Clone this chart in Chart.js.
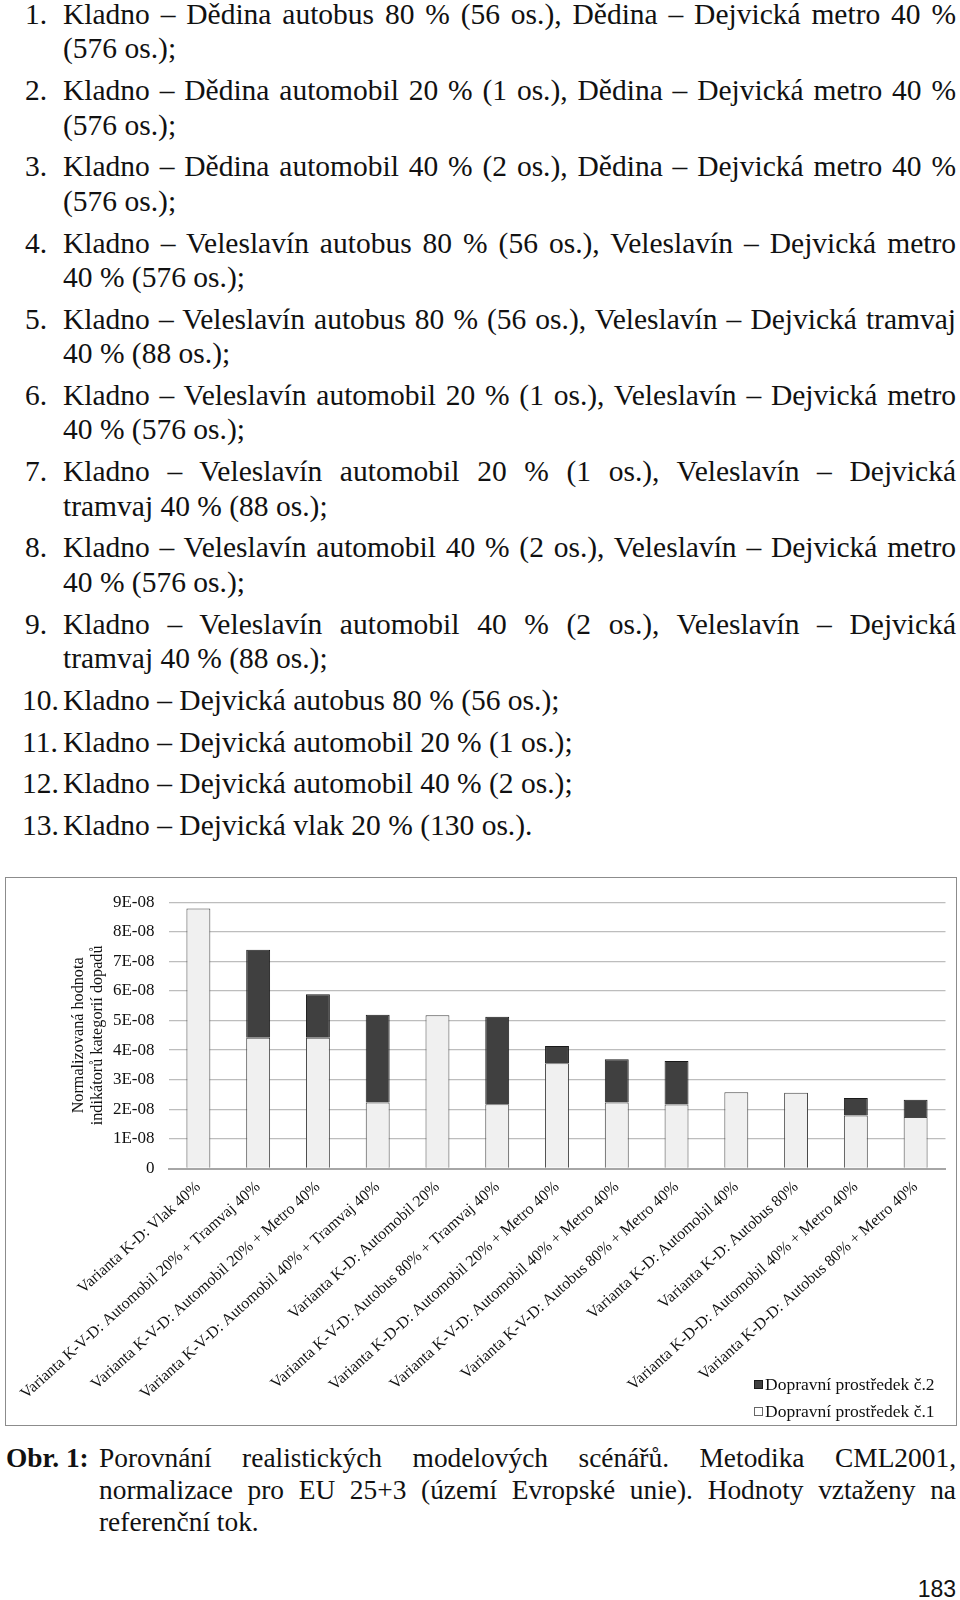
<!DOCTYPE html>
<html lang="cs">
<head>
<meta charset="utf-8">
<title>Porovnání realistických modelových scénářů</title>
<script src="https://cdn.jsdelivr.net/npm/chart.js@4.4.1/dist/chart.umd.min.js"></script>
<style>
    html, body { margin: 0; padding: 0; background: #fff; }
    body {
        width: 960px; height: 1600px; position: relative; overflow: hidden;
        font-family: "Liberation Serif", "Times New Roman", serif; color: #111;
    }
    .list { position: absolute; left: 0; top: -3px; width: 956px; font-size: 29.5px; line-height: 34.4px; }
    .item { position: relative; padding-left: 63px; margin-bottom: 7.4px; white-space: nowrap; }
    .item .num { position: absolute; left: 25px; top: 0; }
    .item.wide .num { left: 22px; }
    /* first line of a two-line item is spread to the full width */
    .j { text-align: justify; text-align-last: justify; }

    .chart-box {
        position: absolute; left: 5px; top: 877px; width: 952px; height: 549px;
        border: 1.5px solid #8c8c8c; box-sizing: border-box;
    }
    .chart-wrap { position: absolute; left: 0; top: 0; width: 949px; height: 546px; }
    .legend { position: absolute; left: 748px; top: 493px; font-size: 17.5px; line-height: 27px; }
    .legend-item { display: flex; align-items: center; height: 27px; white-space: nowrap; }
    .legend-box { width: 9px; height: 9px; margin-right: 2px; box-sizing: border-box; }

    .caption { position: absolute; left: 0; top: 1442px; width: 956px; font-size: 27.4px; line-height: 32px; }
    .caption .lead { position: absolute; left: 6px; top: 0; font-weight: bold; }
    .caption .body { margin-left: 99px; white-space: nowrap; }

    .page-num {
        position: absolute; right: 4px; top: 1575px;
        font-family: "Liberation Sans", Arial, sans-serif; font-size: 23px; line-height: 28px;
    }
</style>
</head>
<body>

<div class="list">
    <div class="item"><span class="num">1.</span><div class="j">Kladno – Dědina autobus 80 % (56 os.), Dědina – Dejvická metro 40 %</div><div>(576 os.);</div></div>
    <div class="item"><span class="num">2.</span><div class="j">Kladno – Dědina automobil 20 % (1 os.), Dědina – Dejvická metro 40 %</div><div>(576 os.);</div></div>
    <div class="item"><span class="num">3.</span><div class="j">Kladno – Dědina automobil 40 % (2 os.), Dědina – Dejvická metro 40 %</div><div>(576 os.);</div></div>
    <div class="item"><span class="num">4.</span><div class="j">Kladno – Veleslavín autobus 80 % (56 os.), Veleslavín – Dejvická metro</div><div>40 % (576 os.);</div></div>
    <div class="item"><span class="num">5.</span><div class="j">Kladno – Veleslavín autobus 80 % (56 os.), Veleslavín – Dejvická tramvaj</div><div>40 % (88 os.);</div></div>
    <div class="item"><span class="num">6.</span><div class="j">Kladno – Veleslavín automobil 20 % (1 os.), Veleslavín – Dejvická metro</div><div>40 % (576 os.);</div></div>
    <div class="item"><span class="num">7.</span><div class="j">Kladno – Veleslavín automobil 20 % (1 os.), Veleslavín – Dejvická</div><div>tramvaj 40 % (88 os.);</div></div>
    <div class="item"><span class="num">8.</span><div class="j">Kladno – Veleslavín automobil 40 % (2 os.), Veleslavín – Dejvická metro</div><div>40 % (576 os.);</div></div>
    <div class="item"><span class="num">9.</span><div class="j">Kladno – Veleslavín automobil 40 % (2 os.), Veleslavín – Dejvická</div><div>tramvaj 40 % (88 os.);</div></div>
    <div class="item wide"><span class="num">10.</span>Kladno – Dejvická autobus 80 % (56 os.);</div>
    <div class="item wide"><span class="num">11.</span>Kladno – Dejvická automobil 20 % (1 os.);</div>
    <div class="item wide"><span class="num">12.</span>Kladno – Dejvická automobil 40 % (2 os.);</div>
    <div class="item wide"><span class="num">13.</span>Kladno – Dejvická vlak 20 % (130 os.).</div>
</div>

<div class="chart-box">
    <div class="chart-wrap"><canvas id="scenarioChart"></canvas></div>
    <div class="legend" id="legend"></div>
</div>

<div class="caption">
    <span class="lead">Obr. 1:</span>
    <div class="body">
        <div class="j">Porovnání realistických modelových scénářů. Metodika CML2001,</div>
        <div class="j">normalizace pro EU 25+3 (území Evropské unie). Hodnoty vztaženy na</div>
        <div>referenční tok.</div>
    </div>
</div>

<div class="page-num">183</div>

<script>
// scenario names under the bars
const categories = [
    "Varianta K-D: Vlak 40%",
    "Varianta K-V-D: Automobil 20% + Tramvaj 40%",
    "Varianta K-V-D: Automobil 20% + Metro 40%",
    "Varianta K-V-D: Automobil 40% + Tramvaj 40%",
    "Varianta K-D: Automobil 20%",
    "Varianta K-V-D: Autobus 80% + Tramvaj 40%",
    "Varianta K-D-D: Automobil 20% + Metro 40%",
    "Varianta K-V-D: Automobil 40% + Metro 40%",
    "Varianta K-V-D: Autobus 80% + Metro 40%",
    "Varianta K-D: Automobil 40%",
    "Varianta K-D: Autobus 80%",
    "Varianta K-D-D: Automobil 40% + Metro 40%",
    "Varianta K-D-D: Autobus 80% + Metro 40%"
];

// normalised impact, lower part of each bar (first transport mode)
const transport1 = [8.79e-8, 4.42e-8, 4.42e-8, 2.23e-8, 5.18e-8, 2.17e-8, 3.56e-8, 2.23e-8, 2.16e-8, 2.58e-8, 2.56e-8, 1.79e-8, 1.74e-8];
// upper part (second transport mode), null where there is none
const transport2 = [null, 2.97e-8, 1.47e-8, 2.97e-8, null, 2.96e-8, 0.58e-8, 1.46e-8, 1.47e-8, null, null, 0.59e-8, 0.58e-8];

const seriesNames = ["Dopravní prostředek č.1", "Dopravní prostředek č.2"];
const yTickLabels = ["0", "1E-08", "2E-08", "3E-08", "4E-08", "5E-08", "6E-08", "7E-08", "8E-08", "9E-08"];
const yAxisTitle = ["Normalizovaná hodnota", "indikátorů kategorií dopadů"];

const serif = "'Liberation Serif', 'Times New Roman', serif";
const fills = ["#f0f0f0", "#404040"];
const strokes = ["#444444", "#1a1a1a"];

document.addEventListener('DOMContentLoaded', function () {
    const ctx = document.getElementById('scenarioChart').getContext('2d');

    const chart = new Chart(ctx, {
        type: 'bar',
        data: {
            labels: categories,
            datasets: [
                {
                    label: seriesNames[0],
                    data: transport1,
                    backgroundColor: fills[0],
                    borderColor: strokes[0],
                    borderWidth: 1,
                    barPercentage: 0.4,
                    categoryPercentage: 1.0
                },
                {
                    label: seriesNames[1],
                    data: transport2,
                    backgroundColor: fills[1],
                    borderColor: strokes[1],
                    borderWidth: 1,
                    barPercentage: 0.4,
                    categoryPercentage: 1.0
                }
            ]
        },
        options: {
            responsive: true,
            maintainAspectRatio: false,
            animation: false,
            layout: { padding: { left: 0, right: 9.5, top: 20, bottom: 0 } },
            plugins: {
                legend: { display: false },
                tooltip: { enabled: false }
            },
            scales: {
                x: {
                    stacked: true,
                    grid: { display: false, drawTicks: false },
                    border: { display: true, color: '#a6a6a6', width: 2 },
                    ticks: {
                        autoSkip: false,
                        minRotation: 42,
                        maxRotation: 42,
                        padding: 9,
                        color: '#111',
                        font: { family: serif, size: 16 }
                    },
                    afterFit: function (scale) { scale.height = 255.5; }
                },
                y: {
                    stacked: true,
                    min: 0,
                    max: 9e-8,
                    ticks: {
                        stepSize: 1e-8,
                        padding: 14,
                        color: '#111',
                        font: { family: serif, size: 17 },
                        callback: function (value, index) { return yTickLabels[index]; }
                    },
                    grid: { color: '#bdbdbd', lineWidth: 1.3, drawTicks: false },
                    border: { display: false },
                    title: {
                        display: true,
                        text: yAxisTitle,
                        color: '#111',
                        font: { family: serif, size: 16.2, lineHeight: 1.2 },
                        padding: { top: 63, bottom: 0 }
                    },
                    afterFit: function (scale) { scale.width = 162.5; }
                }
            }
        }
    });

    // legend in the lower right corner, second mode first like in the original
    let legend = document.getElementById('legend');
    [1, 0].forEach(function (i) {
        let row = document.createElement('div');
        row.classList.add('legend-item');

        let box = document.createElement('span');
        box.classList.add('legend-box');
        box.style.background = i === 1 ? fills[1] : '#ffffff';
        box.style.border = '1px solid ' + (i === 1 ? strokes[1] : '#666666');

        let text = document.createElement('span');
        text.innerText = chart.data.datasets[i].label;

        row.appendChild(box);
        row.appendChild(text);
        legend.appendChild(row);
    });
});
</script>
</body>
</html>
